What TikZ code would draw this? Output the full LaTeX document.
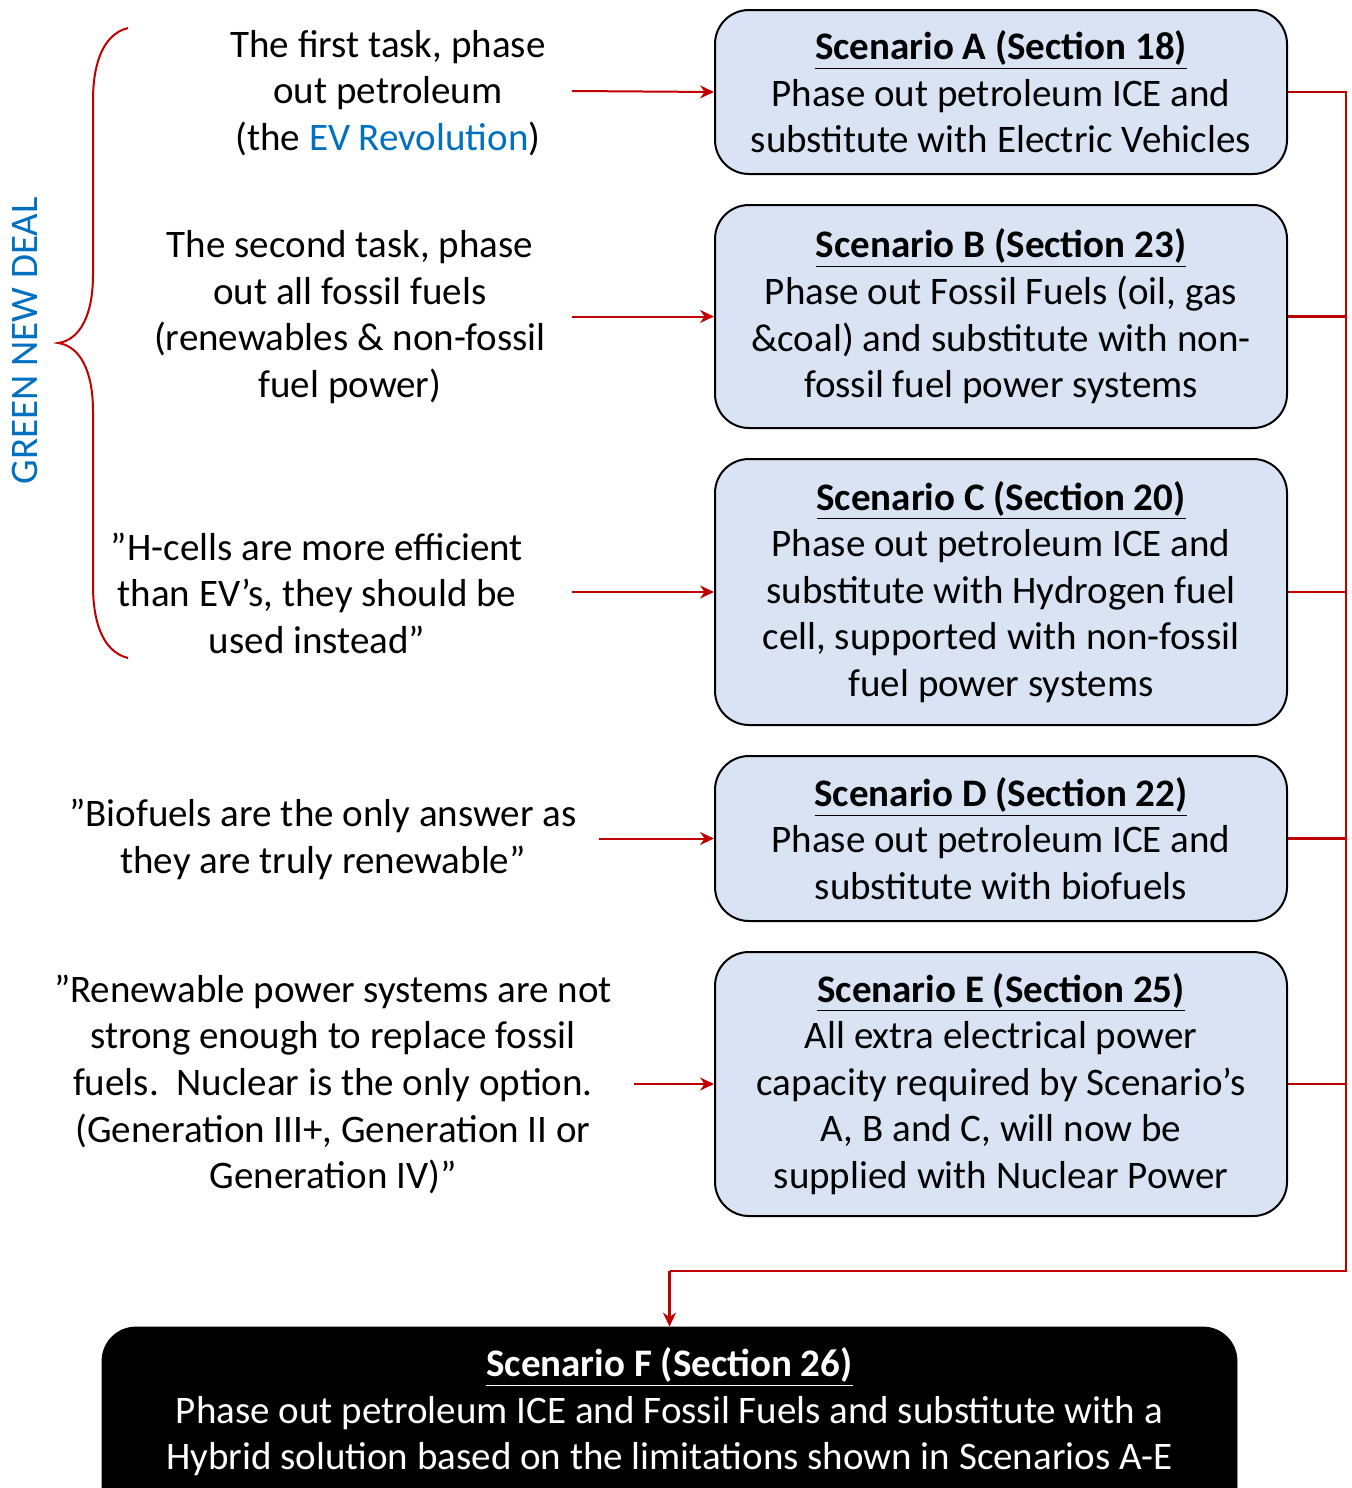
\documentclass[tikz,border=0pt]{standalone}
\usepackage{fontspec}
\setmainfont{Carlito}
\usetikzlibrary{arrows.meta}
\definecolor{bred}{HTML}{C00000}
\definecolor{bblue}{HTML}{0070C0}
\definecolor{boxfill}{HTML}{DAE3F3}
\tikzset{
  txt/.style={align=center,font=\fontsize{19.5}{23.3}\selectfont,inner sep=0pt},
  scen/.style={draw=black,line width=1pt,fill=boxfill,rounded corners=17pt,minimum width=286pt,align=center,font=\fontsize{19.5}{23.3}\selectfont,inner sep=0pt},
  rline/.style={draw=bred,line width=1.25pt},
  rarrow/.style={draw=bred,line width=1pt,-{Stealth[length=7pt,width=6.5pt]}},
}
\newcommand{\scentitle}[1]{\textbf{\underline{#1}}}
\begin{document}
\begin{tikzpicture}[x=0.5pt,y=-0.5pt]
\useasboundingbox (0,0) rectangle (1352,1488);
% scenario boxes
\node[scen,minimum height=82pt] (A) at (1001,92) {\scentitle{Scenario A (Section 18)}\\Phase out petroleum ICE and\\substitute with Electric Vehicles};
\node[scen,minimum height=111.5pt] (B) at (1001,316.5) {\scentitle{Scenario B (Section 23)}\\Phase out Fossil Fuels (oil, gas\\\&coal) and substitute with non-\\fossil fuel power systems};
\node[scen,minimum height=133pt] (C) at (1001,592) {\scentitle{Scenario C (Section 20)}\\Phase out petroleum ICE and\\substitute with Hydrogen fuel\\cell, supported with non-fossil\\fuel power systems};
\node[scen,minimum height=82.5pt] (D) at (1001,838.5) {\scentitle{Scenario D (Section 22)}\\Phase out petroleum ICE and\\substitute with biofuels};
\node[scen,minimum height=132pt] (E) at (1001,1084) {\scentitle{Scenario E (Section 25)}\\All extra electrical power\\capacity required by Scenario’s\\A, B and C, will now be\\supplied with Nuclear Power};
% scenario F (extends below the page)
\begin{scope}
\clip (0,0) rectangle (1352,1488);
\node[draw=black,fill=black,rounded corners=17pt,minimum width=567.5pt,minimum height=110pt,inner sep=0pt] (F) at (669.5,1437) {};
\end{scope}
\node[txt,text=white] (Ftxt) at (669.5,1412) {\scentitle{Scenario F (Section 26)}\\Phase out petroleum ICE and Fossil Fuels and substitute with a\\Hybrid solution based on the limitations shown in Scenarios A-E};
% left texts
\node[txt] (tA) at (388,93) {The first task, phase\\out petroleum\\(the \textcolor{bblue}{EV Revolution})};
\node[txt] (tB) at (350,317) {The second task, phase\\out all fossil fuels\\(renewables \& non-fossil\\fuel power)};
\node[txt] (tC) at (317,593) {”H-cells are more efficient\\than EV’s, they should be\\used instead”};
\node[txt] (tD) at (323,839.5) {”Biofuels are the only answer as\\they are truly renewable”};
\node[txt] (tE) at (333,1084.5) {”Renewable power systems are not\\strong enough to replace fossil\\fuels.\ \ Nuclear is the only option.\\(Generation III+, Generation II or\\Generation IV)”};
\node[txt,text=bblue,rotate=90] (gnd) at (25,341) {GREEN NEW DEAL};
% arrow starts
\coordinate (sA) at (572,91);
\coordinate (sB) at (572,316.5);
\coordinate (sC) at (572,592);
\coordinate (sD) at (599,838.5);
\coordinate (sE) at (634,1084);
\draw[rarrow] (sA) -- (A.west);
\draw[rarrow] (sB) -- (B.west);
\draw[rarrow] (sC) -- (C.west);
\draw[rarrow] (sD) -- (D.west);
\draw[rarrow] (sE) -- (E.west);
% bus
\coordinate (busTop) at (1346,92);
\coordinate (busBot) at (1346,1271);
\coordinate (turn) at (669.5,1271);
\draw[rline,line join=miter] (A.east) -- (busTop) -- (busBot) -- (turn);
\draw[rarrow,line width=1.25pt] (turn) -- (F.north);
\draw[rline] (B.east) -- (B.east -| busTop);
\draw[rline] (C.east) -- (C.east -| busTop);
\draw[rline] (D.east) -- (D.east -| busTop);
\draw[rline] (E.east) -- (E.east -| busTop);
% brace
\draw[bred,line width=1pt] (128,28) .. controls (100,35) and (93,70) .. (93,100) -- (93,275) .. controls (93,315) and (80,340) .. (58,343) .. controls (80,346) and (93,371) .. (93,411) -- (93,586) .. controls (93,616) and (100,651) .. (128,658);
\end{tikzpicture}
\end{document}
